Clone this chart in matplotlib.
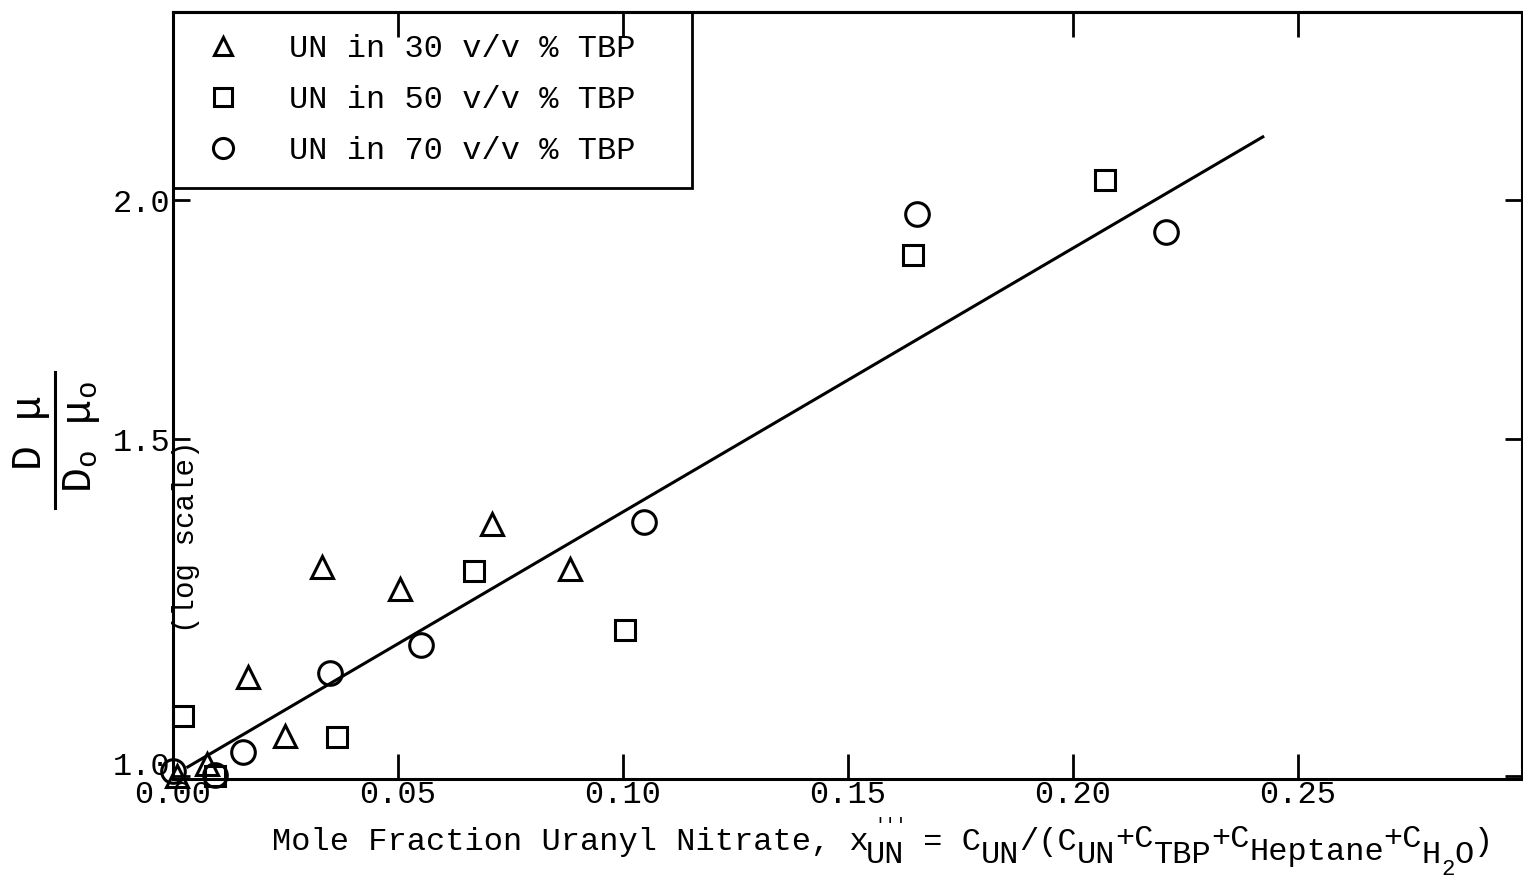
import matplotlib
matplotlib.use("Agg")
import matplotlib.pyplot as plt
from matplotlib.ticker import FixedLocator, NullLocator, FixedFormatter
from matplotlib.transforms import ScaledTranslation

# data (x = mole fraction UN, y = D*mu / (D0*mu0))
tbp30_x = [0.001, 0.0076, 0.0167, 0.0249, 0.0331, 0.0504, 0.0709, 0.0882]
tbp30_y = [1.000, 1.0145, 1.126, 1.049, 1.286, 1.252, 1.354, 1.283]

tbp50_x = [0.0022, 0.0093, 0.0364, 0.0669, 0.1004, 0.1644, 0.2071]
tbp50_y = [1.075, 1.000, 1.048, 1.280, 1.192, 1.872, 2.049]

tbp70_x = [0.000, 0.0093, 0.0156, 0.0349, 0.0551, 0.1047, 0.1653, 0.2207]
tbp70_y = [1.006, 1.001, 1.029, 1.132, 1.171, 1.358, 1.967, 1.925]

fit_x = [0.0033, 0.2422]
fit_y = [1.011, 2.158]

x_ticks = [0.0, 0.05, 0.10, 0.15, 0.20, 0.25]
x_tick_labels = ["0.00", "0.05", "0.10", "0.15", "0.20", "0.25"]
top_ticks = [0.05, 0.10, 0.20, 0.25]
y_ticks = [1.0, 1.5, 2.0]
y_tick_labels = ["1.0", "1.5", "2.0"]

plt.rcParams["font.family"] = ["Liberation Mono", "DejaVu Sans Mono"]
plt.rcParams["mathtext.fontset"] = "custom"
plt.rcParams["mathtext.rm"] = "Liberation Mono"
plt.rcParams["mathtext.it"] = "Liberation Mono"
plt.rcParams["mathtext.bf"] = "Liberation Mono"

W, H = 1523, 884
fig = plt.figure(figsize=(W / 100, H / 100), dpi=100)
ax = fig.add_axes([173 / W, 1 - 779 / H, (1522 - 173) / W, (779 - 12) / H])

ax.set_yscale("log")
ax.set_xlim(0.0, 0.2998)
ax.set_ylim(0.9964, 2.508)

mk = dict(linestyle="none", markerfacecolor="none", markeredgecolor="black",
          markeredgewidth=2.2, clip_on=False)
ax.plot(tbp30_x, tbp30_y, marker="^", markersize=16, label="UN in 30 v/v % TBP", **mk)
ax.plot(tbp50_x, tbp50_y, marker="s", markersize=15, label="UN in 50 v/v % TBP", **mk)
ax.plot(tbp70_x, tbp70_y, marker="o", markersize=17, label="UN in 70 v/v % TBP", **mk)
ax.plot(fit_x, fit_y, color="black", linewidth=2.2)

# ticks
ax.xaxis.set_major_locator(FixedLocator(x_ticks))
ax.xaxis.set_major_formatter(FixedFormatter(x_tick_labels))
ax.yaxis.set_major_locator(FixedLocator(y_ticks))
ax.yaxis.set_major_formatter(FixedFormatter(y_tick_labels))
ax.xaxis.set_minor_locator(NullLocator())
ax.yaxis.set_minor_locator(NullLocator())
ax.tick_params(axis="x", direction="in", length=18, width=2, labelsize=23, pad=1)
ax.tick_params(axis="y", direction="in", length=12, width=2, labelsize=23, pad=2,
               right=True)

# lift the "1.0" label a little, as in the scan
lab = ax.yaxis.get_majorticklabels()[0]
lab.set_transform(lab.get_transform() + ScaledTranslation(0, 13 / 100, fig.dpi_scale_trans))

for s in ax.spines.values():
    s.set_linewidth(2.2)
    s.set_color("black")

leg = ax.legend(loc="upper left", bbox_to_anchor=(0, 0.5, (692 - 173) / 1349, 0.5),
                mode="expand", borderaxespad=0,
                fontsize=23, frameon=True, fancybox=False, framealpha=1,
                edgecolor="black", borderpad=0.68, labelspacing=0.66,
                handletextpad=1.2, handlelength=1.75, markerscale=0.85)
leg.get_frame().set_linewidth(2)
leg.set_zorder(2)

# top ticks (no labels), drawn over the legend box
top = ax.secondary_xaxis("top")
top.xaxis.set_major_locator(FixedLocator(top_ticks))
top.tick_params(direction="in", length=18, width=2, labeltop=False)
top.spines["top"].set_linewidth(2.2)
top.set_zorder(6)

# y axis label: fraction drawn rotated
fig.text(30 / W, 1 - 432 / H, "D μ", rotation=90, ha="center", va="center", fontsize=30)
fig.text(82 / W, 1 - 437 / H, r"D$_\mathrm{o}$ μ$_\mathrm{o}$", rotation=90,
         ha="center", va="center", fontsize=30)
fig.add_artist(plt.Line2D([55 / W, 55 / W], [1 - 372 / H, 1 - 508 / H],
                          color="black", linewidth=2.2))
fig.text(186 / W, 1 - 537 / H, "(log scale)", rotation=90, ha="center",
         va="center", fontsize=21)

# x axis label, typed piece by piece with lowered subscripts
xlabel_parts = [
    ("Mole Fraction Uranyl Nitrate, x", 0), ("UN", 13), (" = C", 0), ("UN", 13),
    ("/(C", 0), ("UN", 13), ("+C", -3), ("TBP", 13), ("+C", -3), ("Heptane", 10),
    ("+C", -3), ("H", 13), ("2", 25), ("O", 13), (")", 0),
]
fs = 23
x_px, base = 272, 850
for txt, dy in xlabel_parts:
    size = 16 if txt == "2" else fs
    fig.text(x_px / W, 1 - (base + dy) / H, txt, fontsize=size, ha="left", va="baseline")
    if txt == "UN" and x_px < 900:
        fig.text((x_px + 8) / W, 1 - (base - 20) / H, "'''", fontsize=13,
                 ha="left", va="baseline")
    x_px += len(txt) * 0.6 * size * 100 / 72

fig.savefig("out.png", dpi=100)
